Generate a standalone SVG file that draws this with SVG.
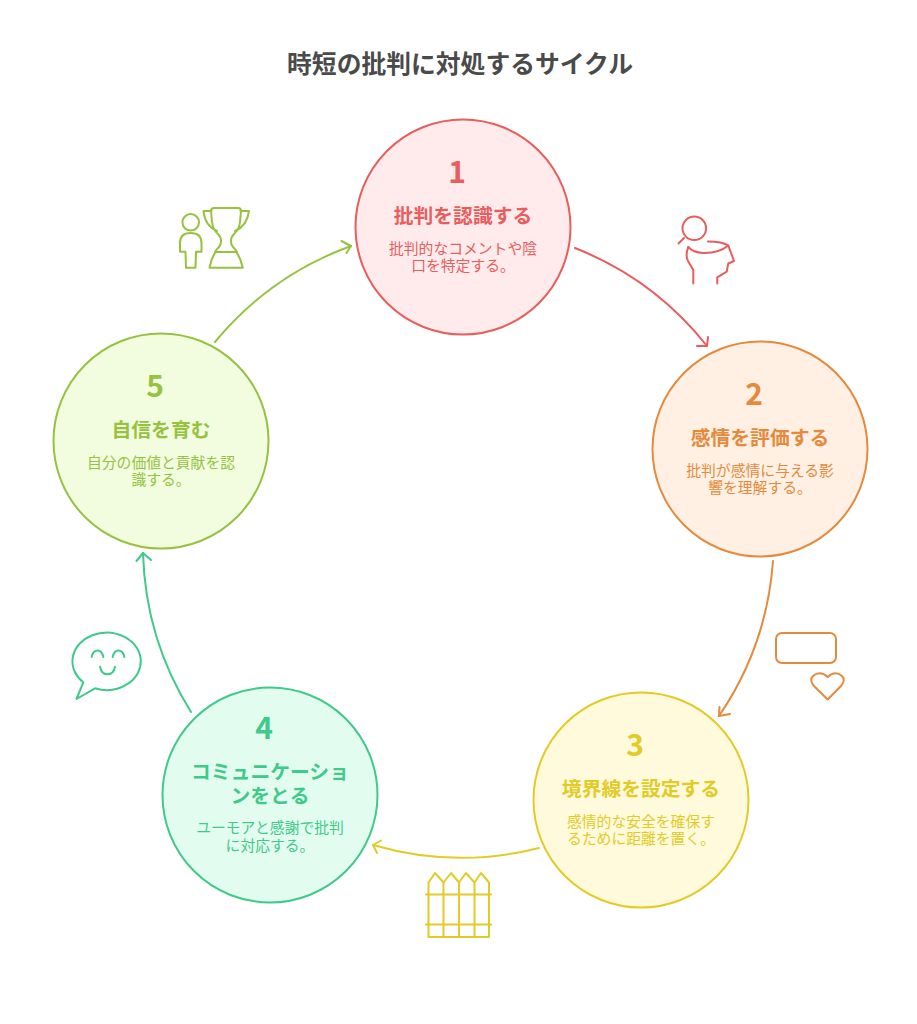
<svg xmlns="http://www.w3.org/2000/svg" width="917" height="1024" viewBox="0 0 917 1024">
<style>
text{font-family:"Noto Sans CJK JP","Noto Sans",sans-serif;text-anchor:middle}
.title{font-size:24.800px;font-weight:700;fill:#4a4a4a}
.num{font-size:30px;font-weight:700}
.head{font-size:19.800px;font-weight:700}
.desc{font-size:14.800px}
.c{stroke-width:2}
.i,.a{fill:none;stroke-width:2;stroke-linecap:round;stroke-linejoin:round}
.r{fill:#e85d5d;stroke:#e85d5d}.o{fill:#e58a3c;stroke:#e58a3c}.y{fill:#e2cb27;stroke:#e2cb27}.g{fill:#3fc98a;stroke:#3fc98a}.l{fill:#96c23f;stroke:#96c23f}
text.r,text.o,text.y,text.g,text.l{stroke:none}
.i.r,.i.o,.i.y,.i.g,.i.l,.a.r,.a.o,.a.y,.a.g,.a.l{fill:none}
</style>
<text class="title" x="460" y="72.500">時短の批判に対処するサイクル</text>
<g id="connectors">
<g class="a r"><path d="M575 248A316 316 0 0 1 707 346"/><path d="M697 346L707 346L708 337"/></g>
<g class="a o"><path d="M773 561A316 316 0 0 1 719 716"/><path d="M719.500 707L719 716L730 714"/></g>
<g class="a y"><path d="M539 848A316 316 0 0 1 373 845"/><path d="M381 840.500L373 845L377 853"/></g>
<g class="a g"><path d="M191 712A316 316 0 0 1 143 553"/><path d="M136.500 561L143 553L151 560"/></g>
<g class="a l"><path d="M215 342A316 316 0 0 1 351 246"/><path d="M341.500 241L351 246L346.500 253"/></g>
</g>
<g id="node1">
<circle class="c" cx="463" cy="227" r="107.500" fill="#ffebeb" stroke="#e85d5d"/>
<text class="num r" x="457" y="183">1</text>
<text class="head r" x="463" y="222.500">批判を認識する</text>
<text class="desc r" x="463" y="253.500">批判的なコメントや陰</text>
<text class="desc r" x="463" y="271">口を特定する。</text>
</g>
<g id="node2">
<circle class="c" cx="760" cy="449" r="107.500" fill="#fff0e3" stroke="#e58a3c"/>
<text class="num o" x="754" y="405">2</text>
<text class="head o" x="760" y="444.500">感情を評価する</text>
<text class="desc o" x="760" y="475.500">批判が感情に与える影</text>
<text class="desc o" x="760" y="493">響を理解する。</text>
</g>
<g id="node3">
<circle class="c" cx="641" cy="800" r="107.500" fill="#fffadb" stroke="#e2cb27"/>
<text class="num y" x="635" y="756">3</text>
<text class="head y" x="641" y="795.500">境界線を設定する</text>
<text class="desc y" x="641" y="826.500">感情的な安全を確保す</text>
<text class="desc y" x="641" y="844">るために距離を置く。</text>
</g>
<g id="node4">
<circle class="c" cx="270" cy="795" r="107.500" fill="#e2fdef" stroke="#3fc98a"/>
<text class="num g" x="264" y="739">4</text>
<text class="head g" x="270" y="778.500">コミュニケーショ</text>
<text class="head g" x="270" y="802.500">ンをとる</text>
<text class="desc g" x="270" y="832.500">ユーモアと感謝で批判</text>
<text class="desc g" x="270" y="850.500">に対応する。</text>
</g>
<g id="node5">
<circle class="c" cx="161" cy="441" r="107.500" fill="#f2fde0" stroke="#96c23f"/>
<text class="num l" x="155" y="397">5</text>
<text class="head l" x="161" y="436.500">自信を育む</text>
<text class="desc l" x="161" y="467.500">自分の価値と貢献を認</text>
<text class="desc l" x="161" y="485">識する。</text>
</g>
<g id="icon1" class="i r">
<circle cx="694.300" cy="228.300" r="11.800"/><path d="M678.500 243.500L684 238"/>
<path d="M708 241.500Q722 241.500 728.300 245.500Q719 253.300 703 253Q693 252.500 688.300 247"/>
<path d="M688.300 247Q685 255 688 261L693.300 270V283.500"/>
<path d="M728.300 245.500L734 261L728.300 263.500L726.700 271.700L717.300 277.300V283.500"/>
</g>
<g id="icon2" class="i o">
<rect x="776" y="633" width="60" height="30" rx="6"/>
<path d="M827.700 699.500L814 686Q809 680 813 676Q820 670 827.700 677Q835 670 842 676Q846 680 841 686Z"/>
</g>
<g id="icon3" class="i y">
<path d="M428.500 937V882.500L435 873L443.500 882.500V937M443.500 882.500L451 873L459 882.500V937M459 882.500L466 873L474.500 882.500V937M474.500 882.500L481 873L489 882.500V937M428.500 937H489"/>
<path d="M426 894.500H491M426 924.500H491"/>
</g>
<g id="icon4" class="i g">
<path d="M76.500 699L83.300 682.300A34.200 28.700 0 1 1 95 688.300Z"/>
<path d="M91.700 657Q93 650.500 97.500 650.500Q102 650.500 103.300 657M112.700 657Q114 650.500 118.500 650.500Q123 650.500 124.300 657M100 666.700Q101.500 674.300 107.500 674.300Q113.500 674.300 115 666.700"/>
</g>
<g id="icon5" class="i l">
<circle cx="190.700" cy="222.300" r="8.300"/>
<path d="M180 251.700V243Q180 233 190.500 233Q201.500 233 201.500 243V251.700H196L195.500 267.700H186L185.500 251.700Z"/>
<path d="M214 208H238Q241 208 241 211L240 222Q239 230 234 234Q231 237 231 241Q231 246 235 249L237 252H215L217 249Q221 246 221 241Q221 237 218 234Q213 230 212 222L211 211Q211 208 214 208Z"/>
<path d="M211.500 211H203.500Q205 226 217 231M240.500 211H249Q247 226 235 231"/>
<path d="M215 253Q211 259 209.500 267.700H242.700Q241 259 237 253"/>
</g>
</svg>
